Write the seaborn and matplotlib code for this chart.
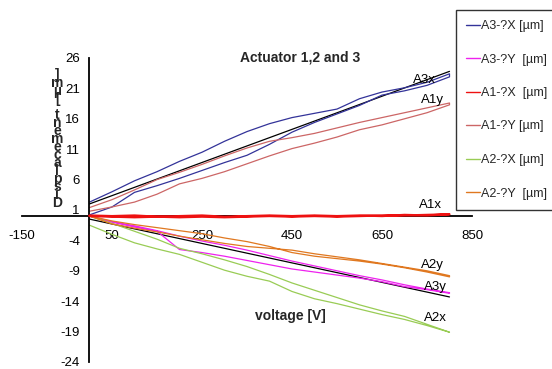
import numpy as np
import pandas as pd
import matplotlib
matplotlib.use("Agg")
import matplotlib.pyplot as plt
import seaborn as sns
from matplotlib.lines import Line2D

sns.set_theme(style="white")
plt.rcParams['font.family'] = ['Liberation Sans', 'DejaVu Sans']

# ---------------- data ----------------
voltage = [0, 50, 100, 150, 200, 250, 300, 350, 400, 450, 500, 550, 600, 650, 700, 750, 800]

a3x_up   = [0.2, 1.5, 3.9, 5.0, 6.2, 7.5, 8.8, 10.0, 11.8, 13.8, 15.4, 16.8, 18.2, 19.9, 20.6, 21.5, 22.9]
a3x_down = [2.3, 4.0, 5.8, 7.3, 9.0, 10.5, 12.3, 13.9, 15.2, 16.2, 16.9, 17.6, 19.3, 20.4, 21.1, 22.0, 23.4]

a3y_up   = [0.0, -0.9, -1.6, -2.4, -3.3, -4.1, -4.8, -5.6, -6.5, -7.4, -8.2, -9.0, -9.8, -10.5, -11.3, -12.0, -12.6]
a3y_down = [0.0, -1.0, -1.8, -2.5, -5.5, -6.0, -6.6, -7.3, -8.0, -8.7, -9.2, -9.7, -10.2, -10.8, -11.6, -12.1, -12.7]

a1x_up   = [0.0, -0.1, -0.2, -0.1, -0.2, -0.1, -0.2, -0.1, 0.0, -0.1, 0.0, -0.1, 0.0, 0.1, 0.1, 0.2, 0.3]
a1x_down = [0.1, 0.0, 0.1, -0.1, 0.0, 0.1, -0.1, 0.0, 0.1, 0.0, 0.1, 0.0, 0.1, 0.0, 0.2, 0.1, 0.3]

a1y_up   = [0.8, 1.5, 2.3, 3.6, 5.3, 6.2, 7.3, 8.6, 9.9, 11.1, 12.0, 13.0, 14.2, 15.0, 16.0, 17.0, 18.3]
a1y_down = [1.4, 2.7, 4.3, 6.0, 7.2, 8.5, 9.9, 11.2, 12.3, 12.9, 13.6, 14.5, 15.4, 16.2, 17.0, 17.8, 18.6]

a2x_up   = [0.0, -1.2, -2.5, -3.8, -5.3, -6.2, -7.2, -8.3, -9.6, -11.0, -12.2, -13.4, -14.6, -15.6, -16.5, -17.8, -19.1]
a2x_down = [-1.5, -3.0, -4.4, -5.4, -6.3, -7.6, -8.9, -9.9, -10.7, -12.4, -13.6, -14.4, -15.3, -16.2, -17.0, -18.0, -19.1]

a2y_up   = [0.0, -0.8, -1.4, -1.9, -2.4, -2.9, -3.6, -4.2, -5.0, -6.0, -6.6, -7.0, -7.4, -7.9, -8.5, -9.2, -10.0]
a2y_down = [0.0, -1.3, -2.0, -2.6, -3.3, -3.9, -4.5, -5.0, -5.3, -5.6, -6.2, -6.7, -7.2, -7.8, -8.4, -9.0, -9.8]

# linear fits (black)
fit_voltage = [0, 800]
fit_a3x = [2.0, 23.8]
fit_a1x = [0.0, 0.1]
fit_a3y = [-0.5, -13.3]

series_names = ["A3-?X [µm]", "A3-?Y  [µm]", "A1-?X  [µm]", "A1-?Y [µm]", "A2-?X [µm]", "A2-?Y  [µm]"]
series_up = [a3x_up, a3y_up, a1x_up, a1y_up, a2x_up, a2y_up]
series_down = [a3x_down, a3y_down, a1x_down, a1y_down, a2x_down, a2y_down]
series_colors = ["#333399", "#EE22EE", "#EE1111", "#CC6666", "#99CC55", "#E07820"]

end_labels = ["A3x", "A1y", "A1x", "A2y", "A3y", "A2x"]

x_ticks = [-150, 50, 250, 450, 650, 850]
y_ticks = [-24, -19, -14, -9, -4, 1, 6, 11, 16, 21, 26]

# ---------------- build frames ----------------
rows = []
for name, up, down in zip(series_names, series_up, series_down):
    vs = list(voltage) + list(voltage[::-1])
    ys = list(up) + list(down[::-1])
    for order, (v, y) in enumerate(zip(vs, ys)):
        rows.append({"series": name, "voltage": v, "disp": y, "order": order})
df = pd.DataFrame(rows)

fit_rows = []
for fname, fy in [("a3x", fit_a3x), ("a1x", fit_a1x), ("a3y", fit_a3y)]:
    for v, y in zip(fit_voltage, fy):
        fit_rows.append({"fit": fname, "voltage": v, "disp": y})
fit_df = pd.DataFrame(fit_rows)

# ---------------- figure ----------------
W, H = 552, 369
fig = plt.figure(figsize=(W / 100, H / 100), dpi=100)
fig.patch.set_facecolor("white")
ax = fig.add_axes([22 / W, 1 - 362 / H, 450 / W, 304 / H])
ax.set_facecolor("white")

palette = dict(zip(series_names, series_colors))
sns.lineplot(data=fit_df, x="voltage", y="disp", units="fit", color="black",
             sort=False, estimator=None, lw=0.9, ax=ax, legend=False)
sns.lineplot(data=df, x="voltage", y="disp", hue="series", palette=palette,
             sort=False, estimator=None, lw=0.9, ax=ax, legend=False)
# the A1-X curve runs on top of the axis line and looks heavier
for line in ax.lines:
    if matplotlib.colors.to_hex(line.get_color()).lower() == "#ee1111":
        line.set_linewidth(1.6)
        line.set_zorder(5)

ax.set_xlim(-150, 850)
ax.set_ylim(-24, 26)
ax.set_xticks(x_ticks)
ax.set_yticks(y_ticks)
ax.set_xticklabels([str(t) for t in x_ticks])
ax.set_yticklabels([str(t) for t in y_ticks])
ax.set_xlabel("")
ax.set_ylabel("")

for s in ["top", "right"]:
    ax.spines[s].set_visible(False)
ax.spines["left"].set_position(("data", 0))
ax.spines["bottom"].set_position(("data", 0))
for s in ["left", "bottom"]:
    ax.spines[s].set_color("black")
    ax.spines[s].set_linewidth(1.3)
ax.tick_params(axis="both", direction="out", length=4, width=1.2, color="black",
               labelsize=9.5, labelcolor="black")
ax.tick_params(axis="x", pad=6)
ax.tick_params(axis="y", pad=3)
ax.grid(False)

# end labels
label_pos = [(745, 22.4), (763, 19.1), (757, 1.8), (763, -8.1), (768, -11.7), (768, -16.8)]
for txt, (lx, ly) in zip(end_labels, label_pos):
    ax.text(lx, ly, txt, fontsize=9.5, ha="center", va="center", color="black")

# title and x label
fig.text(300 / W, 1 - 57 / H, "Actuator 1,2 and 3", fontsize=10, fontweight="bold",
         ha="center", va="center")
fig.text(290 / W, 1 - 316 / H, "voltage [V]", fontsize=10, fontweight="bold",
         ha="center", va="center")

# stacked (upright) y label, reading bottom to top
ylabel = "Displacement [µm]"
fig.text(57 / W, 1 - 139 / H, "\n".join(ylabel[::-1]), fontsize=10, fontweight="bold",
         ha="center", va="center", linespacing=0.46)

# legend
handles = [Line2D([0], [0], color=c, lw=1.0) for c in series_colors]
leg = fig.legend(handles, series_names, loc="upper left",
                 bbox_to_anchor=(456 / W, 1 - 10 / H), frameon=True, fontsize=9,
                 handlelength=1.1, handletextpad=0.1, labelspacing=1.72,
                 borderpad=0.8, borderaxespad=0, fancybox=False)
leg.get_frame().set_edgecolor("black")
leg.get_frame().set_linewidth(1.0)

fig.savefig("out.png", dpi=100)
